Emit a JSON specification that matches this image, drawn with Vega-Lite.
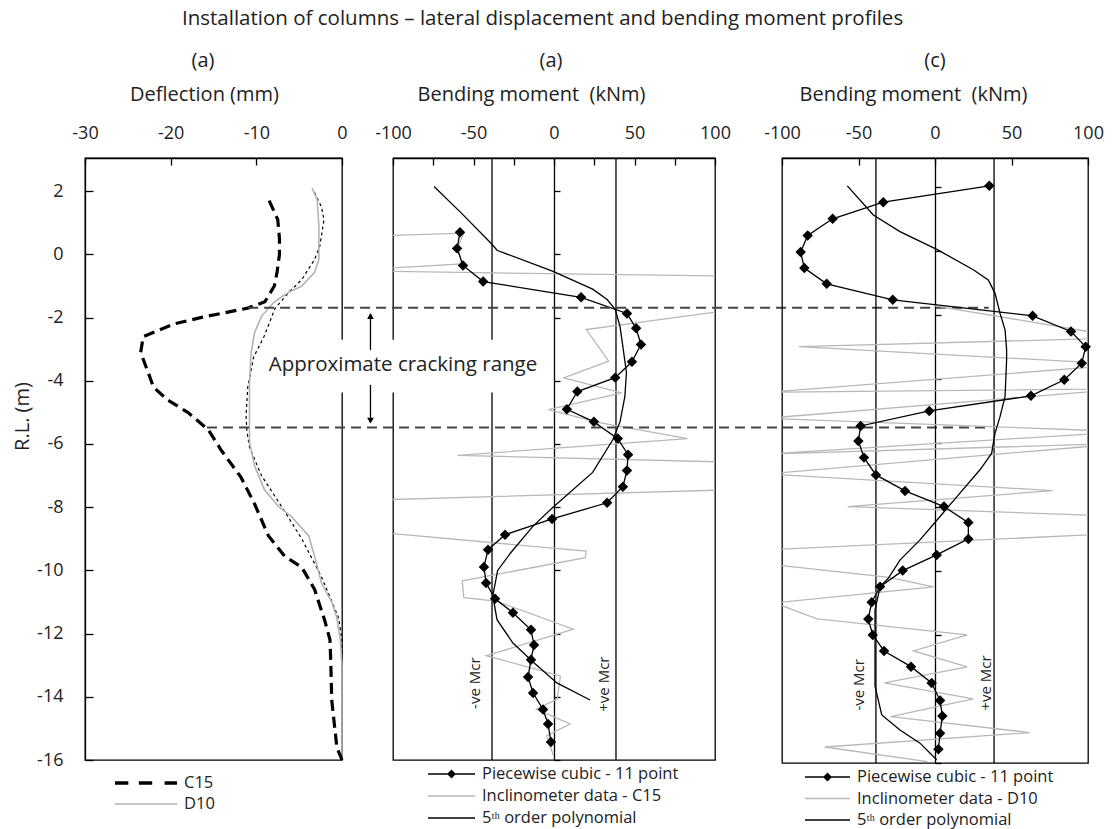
{
  "$schema": "https://vega.github.io/schema/vega-lite/v6.json",
  "background": "white",
  "padding": {"left": 11, "top": 8, "right": 5, "bottom": 2},
  "config": {
    "font": "Open Sans",
    "view": {"stroke": "black", "strokeWidth": 1.3},
    "axis": {"grid": false, "domainColor": "black", "domainWidth": 1.3, "tickColor": "black", "tickWidth": 1.3,
      "labelFont": "Open Sans", "labelFontSize": 18, "labelColor": "#222", "titleFont": "Open Sans", "titleFontSize": 20,
      "titleFontWeight": "normal", "titleColor": "#222", "labelFlush": false, "labelOverlap": false},
    "title": {"font": "Open Sans", "fontWeight": "normal", "color": "#222", "fontSize": 20},
    "legend": {"labelFont": "Open Sans", "labelFontSize": 16.5, "labelColor": "#222", "padding": 0, "labelLimit": 400}
  },
  "title": {"text": "Installation of columns \u2013 lateral displacement and bending moment profiles", "fontSize": 20.5, "frame": "group", "anchor": "start", "dx": 97, "offset": 21},
  "resolve": {"scale": {"color": "independent", "shape": "independent"}, "legend": {"color": "independent", "shape": "independent"}},
  "datasets": {
    "p1_c15": [
      {"d": -8.5, "rl": 1.7}, {"d": -7.5, "rl": 1.1}, {"d": -7.3, "rl": 0.5}, {"d": -7.3, "rl": 0.0}, {"d": -7.6, "rl": -0.6},
      {"d": -7.9, "rl": -1.0}, {"d": -9.0, "rl": -1.5}, {"d": -11, "rl": -1.7}, {"d": -16.5, "rl": -2.0}, {"d": -19.6, "rl": -2.2},
      {"d": -23.2, "rl": -2.6}, {"d": -23.5, "rl": -3.1}, {"d": -22, "rl": -4.2}, {"d": -20.4, "rl": -4.6}, {"d": -18, "rl": -5.0},
      {"d": -15.6, "rl": -5.55}, {"d": -14.1, "rl": -6.2}, {"d": -11.8, "rl": -7.05}, {"d": -10.2, "rl": -7.9}, {"d": -8.6, "rl": -8.9},
      {"d": -6.7, "rl": -9.55}, {"d": -4.7, "rl": -9.9}, {"d": -3.2, "rl": -10.6}, {"d": -2.0, "rl": -11.6}, {"d": -1.4, "rl": -12.2},
      {"d": -1.3, "rl": -13.0}, {"d": -1.2, "rl": -14.1}, {"d": -0.6, "rl": -15.6}, {"d": 0, "rl": -16}
    ],
    "p1_d10": [
      {"d": -3.5, "rl": 2.1}, {"d": -2.9, "rl": 1.74}, {"d": -2.7, "rl": 0.9}, {"d": -2.7, "rl": -0.16}, {"d": -3.2, "rl": -0.57},
      {"d": -4.7, "rl": -1.0}, {"d": -6.2, "rl": -1.2}, {"d": -7.9, "rl": -1.5}, {"d": -9.4, "rl": -1.96}, {"d": -10.2, "rl": -2.47},
      {"d": -10.6, "rl": -3.1}, {"d": -10.8, "rl": -4.05}, {"d": -10.8, "rl": -5.95}, {"d": -10.2, "rl": -6.7}, {"d": -9.05, "rl": -7.45},
      {"d": -7.4, "rl": -7.98}, {"d": -5.9, "rl": -8.3}, {"d": -3.9, "rl": -8.9}, {"d": -3.2, "rl": -9.55}, {"d": -2.4, "rl": -10.4},
      {"d": -1.2, "rl": -11.0}, {"d": -0.6, "rl": -11.5}, {"d": -0.2, "rl": -12.2}, {"d": 0, "rl": -13}, {"d": 0, "rl": -16}
    ],
    "p1_fit": [
      {"d": -3.2, "rl": 1.96}, {"d": -2.4, "rl": 1.5}, {"d": -2.1, "rl": 1.1}, {"d": -2.6, "rl": 0.25}, {"d": -3.2, "rl": -0.16},
      {"d": -4.7, "rl": -0.8}, {"d": -6.2, "rl": -1.2}, {"d": -7.8, "rl": -1.7}, {"d": -9.1, "rl": -2.6}, {"d": -10.3, "rl": -3.24},
      {"d": -11.0, "rl": -4.2}, {"d": -11.2, "rl": -5.1}, {"d": -11.1, "rl": -5.6}, {"d": -10.8, "rl": -6.1}, {"d": -9.4, "rl": -7.0},
      {"d": -7.0, "rl": -8.0}, {"d": -4.7, "rl": -9.0}, {"d": -2.4, "rl": -10.2}, {"d": -0.4, "rl": -11.5}, {"d": 0, "rl": -12.2}, {"d": 0, "rl": -16}
    ],
    "p1_leg": [{"series": "C15"}, {"series": "D10"}],
    "p2_pw": [
      {"m": -58.4, "rl": 0.7}, {"m": -60.2, "rl": 0.19}, {"m": -56.5, "rl": -0.35}, {"m": -44, "rl": -0.86}, {"m": 16.8, "rl": -1.36},
      {"m": 45.3, "rl": -1.87}, {"m": 51, "rl": -2.34}, {"m": 54, "rl": -2.85}, {"m": 48.4, "rl": -3.4}, {"m": 38, "rl": -3.9},
      {"m": 14.5, "rl": -4.34}, {"m": 8, "rl": -4.9}, {"m": 24.8, "rl": -5.3}, {"m": 39.6, "rl": -5.83}, {"m": 46, "rl": -6.34},
      {"m": 45.3, "rl": -6.84}, {"m": 42.8, "rl": -7.35}, {"m": 33, "rl": -7.86}, {"m": -1.2, "rl": -8.37}, {"m": -30.4, "rl": -8.87},
      {"m": -41, "rl": -9.35}, {"m": -43.5, "rl": -9.89}, {"m": -42.2, "rl": -10.4}, {"m": -36.6, "rl": -10.9}, {"m": -25.5, "rl": -11.34},
      {"m": -14.3, "rl": -11.88}, {"m": -12.4, "rl": -12.36}, {"m": -14.3, "rl": -12.83}, {"m": -16.1, "rl": -13.37}, {"m": -13, "rl": -13.88},
      {"m": -6.8, "rl": -14.4}, {"m": -3.7, "rl": -14.86}, {"m": -1.9, "rl": -15.43}
    ],
    "p2_poly": [
      {"m": -74.5, "rl": 2.15}, {"m": -58, "rl": 1.33}, {"m": -38.5, "rl": 0.32}, {"m": -35.4, "rl": 0.13}, {"m": -0.6, "rl": -0.54},
      {"m": 24, "rl": -1.1}, {"m": 33, "rl": -1.43}, {"m": 38, "rl": -1.74}, {"m": 41, "rl": -2.28}, {"m": 43, "rl": -3.0},
      {"m": 45, "rl": -3.74}, {"m": 44, "rl": -4.5}, {"m": 41, "rl": -5.3}, {"m": 36.6, "rl": -5.86}, {"m": 24, "rl": -6.9},
      {"m": -0.6, "rl": -8.0}, {"m": -13, "rl": -8.6}, {"m": -27, "rl": -9.45}, {"m": -35, "rl": -10.0}, {"m": -38, "rl": -10.8},
      {"m": -35.4, "rl": -11.56}, {"m": -25.5, "rl": -12.3}, {"m": -13, "rl": -12.9}, {"m": 1.8, "rl": -13.56}, {"m": 22.4, "rl": -14.1}
    ],
    "p2_inc": [
      {"m": -130, "rl": 0.55}, {"m": -56, "rl": 0.67}, {"m": -60, "rl": 0.2}, {"m": -57, "rl": -0.3}, {"m": -130, "rl": -0.52},
      {"m": 130, "rl": -0.7}, {"m": 130, "rl": -1.62}, {"m": 20, "rl": -2.38}, {"m": 34, "rl": -3.38}, {"m": 6, "rl": -3.91},
      {"m": 42, "rl": -4.38}, {"m": -3.5, "rl": -4.91}, {"m": 29, "rl": -5.33}, {"m": 83, "rl": -5.83}, {"m": -60, "rl": -6.36},
      {"m": 130, "rl": -6.6}, {"m": 130, "rl": -7.42}, {"m": -130, "rl": -7.8}, {"m": -130, "rl": -8.7}, {"m": 20, "rl": -9.39},
      {"m": 19.5, "rl": -9.6}, {"m": -57, "rl": -10.33}, {"m": -56, "rl": -10.86}, {"m": -36, "rl": -10.97}, {"m": 12, "rl": -11.86},
      {"m": -42, "rl": -12.7}, {"m": 4, "rl": -13.34}, {"m": 2, "rl": -14.07}, {"m": -11, "rl": -14.39}, {"m": 10, "rl": -14.86},
      {"m": -4.5, "rl": -15.23}, {"m": -0.4, "rl": -15.86}
    ],
    "p2_mcr": [{"m": -38.5}, {"m": 38.5}],
    "p2_mcrlab": [{"m": -49, "rl": -13.57, "label": "-ve Mcr"}, {"m": 31, "rl": -13.6, "label": "+ve Mcr"}],
    "p2_leg": [{"series": "Piecewise cubic - 11 point"}, {"series": "Inclinometer data - C15"}, {"series": "5\u1d57\u02b0 order polynomial"}],
    "crack_lines": [{"m1": -190, "m2": 270, "rl": -1.69}, {"m1": -215.5, "m2": 268, "rl": -5.48}],
    "crack_box": [{"m1": -181, "m2": -4, "rl1": -2.70, "rl2": -4.37}],
    "crack_arrow": [{"m": -114, "rl1": -1.9, "rl2": -3.03}, {"m": -114, "rl1": -4.13, "rl2": -5.3}],
    "crack_text": [{"m": -93.8, "rl": -3.49, "label": "Approximate cracking range"}],
    "p3_pw": [
      {"m": 35.5, "rl": 2.03}, {"m": -33.8, "rl": 1.52}, {"m": -66.9, "rl": 1.0}, {"m": -83.2, "rl": 0.48}, {"m": -87.8, "rl": -0.04},
      {"m": -85.4, "rl": -0.54}, {"m": -70.8, "rl": -1.03}, {"m": -27.6, "rl": -1.53}, {"m": 63.8, "rl": -2.03}, {"m": 88.9, "rl": -2.52},
      {"m": 98.5, "rl": -3.0}, {"m": 95.9, "rl": -3.51}, {"m": 84.5, "rl": -4.03}, {"m": 62.7, "rl": -4.53}, {"m": -3.7, "rl": -5.0},
      {"m": -48.6, "rl": -5.47}, {"m": -50.1, "rl": -5.94}, {"m": -46.4, "rl": -6.46}, {"m": -38.6, "rl": -7.0}, {"m": -19.6, "rl": -7.5},
      {"m": 5.9, "rl": -7.99}, {"m": 21.8, "rl": -8.49}, {"m": 21.8, "rl": -9.0}, {"m": 1.1, "rl": -9.5}, {"m": -21.1, "rl": -9.99},
      {"m": -35.9, "rl": -10.49}, {"m": -41.4, "rl": -10.98}, {"m": -43.6, "rl": -11.5}, {"m": -40.7, "rl": -12.0}, {"m": -33.3, "rl": -12.5},
      {"m": -15.7, "rl": -12.99}, {"m": -2.2, "rl": -13.5}, {"m": 3.3, "rl": -14.05}, {"m": 4.8, "rl": -14.53}, {"m": 3.3, "rl": -15.07},
      {"m": 2.2, "rl": -15.57}
    ],
    "p3_poly": [
      {"m": -57.3, "rl": 2.03}, {"m": -40.3, "rl": 1.12}, {"m": -22.9, "rl": 0.6}, {"m": 1.8, "rl": 0.03}, {"m": 25, "rl": -0.59},
      {"m": 34.8, "rl": -0.91}, {"m": 39.2, "rl": -1.32}, {"m": 42.5, "rl": -1.95}, {"m": 45.8, "rl": -2.47}, {"m": 46.8, "rl": -3.09},
      {"m": 46.8, "rl": -3.4}, {"m": 45.8, "rl": -4.55}, {"m": 42.5, "rl": -5.18}, {"m": 39.2, "rl": -5.7}, {"m": 37, "rl": -6.33},
      {"m": 29.4, "rl": -6.84}, {"m": 16.3, "rl": -7.57}, {"m": 3.3, "rl": -8.3}, {"m": -9.8, "rl": -9.03}, {"m": -22.9, "rl": -9.66},
      {"m": -30.5, "rl": -10.23}, {"m": -35.9, "rl": -10.49}, {"m": -39.2, "rl": -11.22}, {"m": -39.2, "rl": -12.05}, {"m": -39.2, "rl": -13.6},
      {"m": -34.8, "rl": -14.5}, {"m": -22.9, "rl": -14.97}, {"m": -9.8, "rl": -15.38}, {"m": 1.1, "rl": -15.9}
    ],
    "p3_inc": [
      {"m": 0, "rl": -1.72}, {"m": 125, "rl": -2.72}, {"m": -89, "rl": -2.99}, {"m": 125, "rl": -3.55}, {"m": -110, "rl": -4.42},
      {"m": 125, "rl": -4.31}, {"m": -110, "rl": -5.23}, {"m": 125, "rl": -5.65}, {"m": -110, "rl": -6.35}, {"m": 125, "rl": -6.01},
      {"m": -110, "rl": -6.97}, {"m": 77, "rl": -7.49}, {"m": -57, "rl": -7.99}, {"m": 125, "rl": -8.3}, {"m": 125, "rl": -8.82},
      {"m": -110, "rl": -9.34}, {"m": -110, "rl": -9.78}, {"m": -30, "rl": -10.2}, {"m": -1, "rl": -10.5}, {"m": -105, "rl": -11.0},
      {"m": -77, "rl": -11.5}, {"m": 21, "rl": -12.0}, {"m": -14, "rl": -12.5}, {"m": 21, "rl": -13.0}, {"m": -33, "rl": -13.5},
      {"m": 25, "rl": -14.0}, {"m": -29, "rl": -14.55}, {"m": 62, "rl": -15.05}, {"m": -72, "rl": -15.5}, {"m": -5, "rl": -15.96}
    ],
    "p3_mcr": [{"m": -38.6}, {"m": 38.6}],
    "p3_mcrlab": [{"m": -50, "rl": -13.56, "label": "-ve Mcr"}, {"m": 33.3, "rl": -13.5, "label": "+ve Mcr"}],
    "p3_leg": [{"series": "Piecewise cubic - 11 point"}, {"series": "Inclinometer data - D10"}, {"series": "5\u1d57\u02b0 order polynomial"}]
  },
  "spacing": 51,
  "bounds": "flush",
  "hconcat": [
    {
      "width": 257, "height": 602,
      "title": {"text": "(a)", "dx": -10.5, "offset": 13, "frame": "group", "anchor": "middle"},
      "layer": [
        {
          "data": {"name": "p1_fit"},
          "mark": {"type": "line", "color": "black", "strokeWidth": 1.2, "strokeDash": [3, 3]},
          "encoding": {
            "x": {"field": "d", "type": "quantitative", "scale": {"domain": [-30, 0]},
              "axis": {"orient": "top", "values": [-30, -20, -10, 0], "labelExpr": "toString(datum.value)", "tickSize": -7, "labelPadding": 23, "title": "Deflection (mm)", "titlePadding": 20, "titleX": 119}},
            "y": {"field": "rl", "type": "quantitative", "scale": {"domain": [-16, 3.05], "nice": false},
              "axis": {"orient": "left", "values": [-16, -15, -14, -13, -12, -11, -10, -9, -8, -7, -6, -5, -4, -3, -2, -1, 0, 1, 2], "labelExpr": "datum.value % 2 == 0 ? toString(datum.value) : ''", "tickSize": -8, "labelPadding": 30, "title": "R.L. (m)", "titlePadding": 4, "titleY": 258}},
            "order": {"value": null}
          }
        },
        {
          "data": {"name": "p1_d10"},
          "mark": {"type": "line", "color": "#b3b3b3", "strokeWidth": 1.6},
          "encoding": {"x": {"field": "d", "type": "quantitative"}, "y": {"field": "rl", "type": "quantitative"}, "order": {"value": null}}
        },
        {
          "data": {"name": "p1_c15"},
          "mark": {"type": "line", "color": "black", "strokeWidth": 3.2, "strokeDash": [11, 6]},
          "encoding": {"x": {"field": "d", "type": "quantitative"}, "y": {"field": "rl", "type": "quantitative"}, "order": {"value": null}}
        },
        {
          "data": {"name": "p1_leg"},
          "mark": {"type": "point", "filled": true, "opacity": 0},
          "encoding": {
            "color": {"field": "series", "type": "nominal", "scale": {"domain": ["C15", "D10"], "range": ["black", "#b3b3b3"]},
              "legend": {"orient": "none", "legendX": 30, "legendY": 616, "title": null, "direction": "vertical", "symbolSize": 3844, "clipHeight": 18, "rowPadding": 3, "labelOffset": 7, "symbolStrokeWidth": 0, "symbolOpacity": 1}},
            "shape": {"field": "series", "type": "nominal", "scale": {"domain": ["C15", "D10"], "range": [
              "M-1,-0.06L-0.57,-0.06L-0.57,0.06L-1,0.06Z M-0.23,-0.06L0.2,-0.06L0.2,0.06L-0.23,0.06Z M0.6,-0.06L1,-0.06L1,0.06L0.6,0.06Z",
              "M-1,-0.026L1,-0.026L1,0.026L-1,0.026Z"]},
              "legend": {"orient": "none", "legendX": 30, "legendY": 616, "title": null, "direction": "vertical", "symbolSize": 3844, "clipHeight": 18, "rowPadding": 3, "labelOffset": 7, "symbolStrokeWidth": 0, "symbolOpacity": 1}}
          }
        }
      ]
    },
    {
      "spacing": 67,
      "bounds": "flush",
      "resolve": {"scale": {"color": "independent", "shape": "independent"}, "legend": {"color": "independent", "shape": "independent"}},
      "hconcat": [
        {
          "width": 322, "height": 602,
          "title": {"text": "(a)", "dx": -3, "offset": 13, "frame": "group", "anchor": "middle"},
          "layer": [
            {
              "data": {"name": "p2_mcr"},
              "mark": {"type": "rule", "color": "black", "strokeWidth": 1.3},
              "encoding": {
                "x": {"field": "m", "type": "quantitative", "scale": {"domain": [-100, 100]},
                  "axis": {"orient": "top", "values": [-100, -75, -50, -25, 0, 25, 50, 75, 100], "labelExpr": "datum.value % 50 == 0 ? toString(datum.value) : ''", "tickSize": -7, "labelPadding": 23, "title": "Bending moment\u00a0\u00a0(kNm)", "titlePadding": 20, "titleX": 138}}
              }
            },
            {
              "data": {"name": "p2_inc"},
              "mark": {"type": "line", "color": "#b8b8b8", "strokeWidth": 1.3, "clip": true},
              "encoding": {
                "x": {"field": "m", "type": "quantitative"},
                "y": {"field": "rl", "type": "quantitative", "scale": {"domain": [-16, 3.05], "nice": false},
                  "axis": {"orient": "left", "offset": -161, "values": [-16, -15, -14, -13, -12, -11, -10, -9, -8, -7, -6, -5, -4, -3, -2, -1, 0, 1, 2], "labels": false, "tickSize": -6, "title": null}},
                "order": {"value": null}
              }
            },
            {
              "data": {"name": "p2_poly"},
              "mark": {"type": "line", "color": "black", "strokeWidth": 1.3},
              "encoding": {"x": {"field": "m", "type": "quantitative"}, "y": {"field": "rl", "type": "quantitative"}, "order": {"value": null}}
            },
            {
              "data": {"name": "p2_pw"},
              "mark": {"type": "line", "color": "black", "strokeWidth": 1.3},
              "encoding": {"x": {"field": "m", "type": "quantitative"}, "y": {"field": "rl", "type": "quantitative"}, "order": {"value": null}}
            },
            {
              "data": {"name": "p2_pw"},
              "mark": {"type": "point", "shape": "diamond", "filled": true, "color": "black", "size": 110, "opacity": 1},
              "encoding": {"x": {"field": "m", "type": "quantitative"}, "y": {"field": "rl", "type": "quantitative"}}
            },
            {
              "data": {"name": "p2_mcrlab"},
              "mark": {"type": "text", "angle": 270, "fontSize": 15, "color": "#222"},
              "encoding": {"x": {"field": "m", "type": "quantitative"}, "y": {"field": "rl", "type": "quantitative"}, "text": {"field": "label"}}
            },
            {
              "data": {"name": "crack_lines"},
              "mark": {"type": "rule", "color": "#444", "strokeWidth": 2, "strokeDash": [10, 6]},
              "encoding": {"x": {"field": "m1", "type": "quantitative"}, "x2": {"field": "m2"}, "y": {"field": "rl", "type": "quantitative"}}
            },
            {
              "data": {"name": "crack_box"},
              "mark": {"type": "rect", "fill": "white"},
              "encoding": {"x": {"field": "m1", "type": "quantitative"}, "x2": {"field": "m2"}, "y": {"field": "rl1", "type": "quantitative"}, "y2": {"field": "rl2"}}
            },
            {
              "data": {"name": "crack_arrow"},
              "mark": {"type": "rule", "color": "black", "strokeWidth": 1.3},
              "encoding": {"x": {"field": "m", "type": "quantitative"}, "y": {"field": "rl1", "type": "quantitative"}, "y2": {"field": "rl2"}}
            },
            {
              "data": {"values": [{"m": -114, "rl": -1.95}]},
              "mark": {"type": "point", "shape": "triangle-up", "filled": true, "color": "black", "size": 45, "opacity": 1},
              "encoding": {"x": {"field": "m", "type": "quantitative"}, "y": {"field": "rl", "type": "quantitative"}}
            },
            {
              "data": {"values": [{"m": -114, "rl": -5.26}]},
              "mark": {"type": "point", "shape": "triangle-down", "filled": true, "color": "black", "size": 45, "opacity": 1},
              "encoding": {"x": {"field": "m", "type": "quantitative"}, "y": {"field": "rl", "type": "quantitative"}}
            },
            {
              "data": {"name": "crack_text"},
              "mark": {"type": "text", "fontSize": 20.5, "color": "#222"},
              "encoding": {"x": {"field": "m", "type": "quantitative"}, "y": {"field": "rl", "type": "quantitative"}, "text": {"field": "label"}}
            },
            {
              "data": {"name": "p2_leg"},
              "mark": {"type": "point", "filled": true, "opacity": 0},
              "encoding": {
                "color": {"field": "series", "type": "nominal", "scale": {"domain": ["Piecewise cubic - 11 point", "Inclinometer data - C15", "5\u1d57\u02b0 order polynomial"], "range": ["black", "#b8b8b8", "black"]},
                  "legend": {"orient": "none", "legendX": 35, "legendY": 607, "title": null, "direction": "vertical", "symbolSize": 2209, "clipHeight": 18, "rowPadding": 4, "labelOffset": 7, "symbolStrokeWidth": 0, "symbolOpacity": 1}},
                "shape": {"field": "series", "type": "nominal", "scale": {"domain": ["Piecewise cubic - 11 point", "Inclinometer data - C15", "5\u1d57\u02b0 order polynomial"], "range": [
                  "M-1,-0.028L1,-0.028L1,0.028L-1,0.028Z M0,-0.19L0.19,0L0,0.19L-0.19,0Z",
                  "M-1,-0.028L1,-0.028L1,0.028L-1,0.028Z",
                  "M-1,-0.03L1,-0.03L1,0.03L-1,0.03Z"]},
                  "legend": {"orient": "none", "legendX": 35, "legendY": 607, "title": null, "direction": "vertical", "symbolSize": 2209, "clipHeight": 18, "rowPadding": 4, "labelOffset": 7, "symbolStrokeWidth": 0, "symbolOpacity": 1}}
              }
            }
          ]
        },
        {
          "width": 306, "height": 605,
          "title": {"text": "(c)", "dx": 0, "offset": 13, "frame": "group", "anchor": "middle"},
          "layer": [
            {
              "data": {"name": "p3_mcr"},
              "mark": {"type": "rule", "color": "black", "strokeWidth": 1.3},
              "encoding": {
                "x": {"field": "m", "type": "quantitative", "scale": {"domain": [-100, 100]},
                  "axis": {"orient": "top", "values": [-100, -75, -50, -25, 0, 25, 50, 75, 100], "labelExpr": "datum.value % 50 == 0 ? toString(datum.value) : ''", "tickSize": -7, "labelPadding": 23, "title": "Bending moment\u00a0\u00a0(kNm)", "titlePadding": 20, "titleX": 131}}
              }
            },
            {
              "data": {"name": "p3_inc"},
              "mark": {"type": "line", "color": "#b8b8b8", "strokeWidth": 1.3, "clip": true},
              "encoding": {
                "x": {"field": "m", "type": "quantitative"},
                "y": {"field": "rl", "type": "quantitative", "scale": {"domain": [-16, 2.9], "nice": false},
                  "axis": {"orient": "left", "offset": -153, "values": [-16, -15, -14, -13, -12, -11, -10, -9, -8, -7, -6, -5, -4, -3, -2, -1, 0, 1, 2], "labels": false, "tickSize": -6, "title": null}},
                "order": {"value": null}
              }
            },
            {
              "data": {"name": "p3_poly"},
              "mark": {"type": "line", "color": "black", "strokeWidth": 1.3},
              "encoding": {"x": {"field": "m", "type": "quantitative"}, "y": {"field": "rl", "type": "quantitative"}, "order": {"value": null}}
            },
            {
              "data": {"name": "p3_pw"},
              "mark": {"type": "line", "color": "black", "strokeWidth": 1.3},
              "encoding": {"x": {"field": "m", "type": "quantitative"}, "y": {"field": "rl", "type": "quantitative"}, "order": {"value": null}}
            },
            {
              "data": {"name": "p3_pw"},
              "mark": {"type": "point", "shape": "diamond", "filled": true, "color": "black", "size": 110, "opacity": 1},
              "encoding": {"x": {"field": "m", "type": "quantitative"}, "y": {"field": "rl", "type": "quantitative"}}
            },
            {
              "data": {"name": "p3_mcrlab"},
              "mark": {"type": "text", "angle": 270, "fontSize": 15, "color": "#222"},
              "encoding": {"x": {"field": "m", "type": "quantitative"}, "y": {"field": "rl", "type": "quantitative"}, "text": {"field": "label"}}
            },
            {
              "data": {"name": "p3_leg"},
              "mark": {"type": "point", "filled": true, "opacity": 0},
              "encoding": {
                "color": {"field": "series", "type": "nominal", "scale": {"domain": ["Piecewise cubic - 11 point", "Inclinometer data - D10", "5\u1d57\u02b0 order polynomial"], "range": ["black", "#b8b8b8", "black"]},
                  "legend": {"orient": "none", "legendX": 23, "legendY": 610, "title": null, "direction": "vertical", "symbolSize": 2025, "clipHeight": 18, "rowPadding": 3.5, "labelOffset": 7, "symbolStrokeWidth": 0, "symbolOpacity": 1}},
                "shape": {"field": "series", "type": "nominal", "scale": {"domain": ["Piecewise cubic - 11 point", "Inclinometer data - D10", "5\u1d57\u02b0 order polynomial"], "range": [
                  "M-1,-0.029L1,-0.029L1,0.029L-1,0.029Z M0,-0.2L0.2,0L0,0.2L-0.2,0Z",
                  "M-1,-0.029L1,-0.029L1,0.029L-1,0.029Z",
                  "M-1,-0.031L1,-0.031L1,0.031L-1,0.031Z"]},
                  "legend": {"orient": "none", "legendX": 23, "legendY": 610, "title": null, "direction": "vertical", "symbolSize": 2025, "clipHeight": 18, "rowPadding": 3.5, "labelOffset": 7, "symbolStrokeWidth": 0, "symbolOpacity": 1}}
              }
            }
          ]
        }
      ]
    }
  ]
}
